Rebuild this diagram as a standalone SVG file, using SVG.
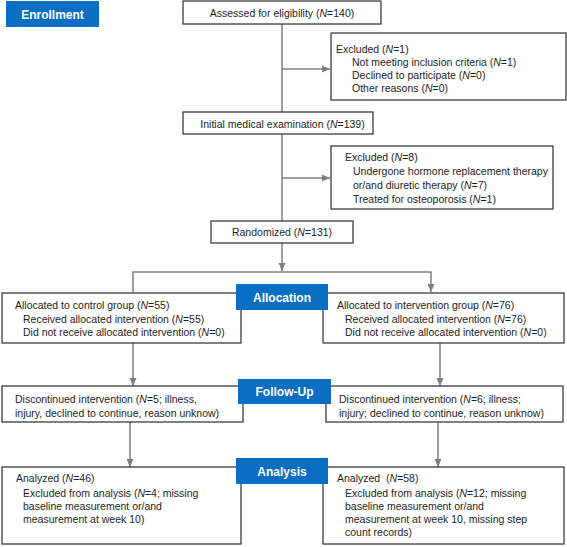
<svg xmlns="http://www.w3.org/2000/svg" width="567" height="547" viewBox="0 0 567 547">
<style>
.box{fill:#fff;stroke:#3c3c3c;stroke-width:1.3}
.stage{fill:#0a6fc2}
.stx{font-family:"Liberation Sans",Arial,sans-serif;font-size:12px;font-weight:bold;fill:#fff;text-anchor:middle}
.t{font-family:"Liberation Sans",Arial,sans-serif;font-size:10.5px;fill:#1e1e1e;white-space:pre}
.c{text-anchor:middle}
.ln{fill:none;stroke:#7f7f7f;stroke-width:1.5}
.arr{fill:none;stroke:#7f7f7f;stroke-width:1.5;marker-end:url(#ah)}
</style>
<defs>
<marker id="ah" markerUnits="userSpaceOnUse" markerWidth="8" markerHeight="8" refX="8" refY="4" orient="auto">
<path d="M0,0.5 L8,4 L0,7.5 Z" fill="#7f7f7f"/>
</marker>
</defs>
<rect width="567" height="547" fill="#fff"/>
<g id="connectors">
<line class="ln" x1="282" y1="24" x2="282" y2="112"/>
<line class="arr" x1="282" y1="69" x2="330" y2="69"/>
<line class="ln" x1="282" y1="134" x2="282" y2="221"/>
<line class="arr" x1="282" y1="178" x2="330" y2="178"/>
<line class="arr" x1="282" y1="243" x2="282" y2="271"/>
<polyline class="arr" points="133,292 133,272 431,272 431,292" marker-end="url(#ah)"/>
<line class="arr" x1="133" y1="343" x2="133" y2="386"/>
<line class="arr" x1="440" y1="343" x2="440" y2="386"/>
<line class="arr" x1="130" y1="422" x2="130" y2="467"/>
<line class="arr" x1="438" y1="422" x2="438" y2="467"/>
</g>
<g id="enrollment"><rect class="stage" x="6" y="1" width="93" height="26"/><text class="stx" x="52.5" y="18.5">Enrollment</text></g>
<g id="assessed"><rect class="box" x="183" y="1" width="198" height="23"/><text class="t c" x="282" y="17">Assessed for eligibility (<tspan font-style="italic">N</tspan>=140)</text></g>
<g id="excluded1"><rect class="box" x="331" y="33" width="235" height="67"/>
<text class="t" x="336" y="53">Excluded (<tspan font-style="italic">N</tspan>=1)</text>
<text class="t" x="352" y="66">Not meeting inclusion criteria (<tspan font-style="italic">N</tspan>=1)</text>
<text class="t" x="352" y="79">Declined to participate (<tspan font-style="italic">N</tspan>=0)</text>
<text class="t" x="352" y="92">Other reasons (<tspan font-style="italic">N</tspan>=0)</text></g>
<g id="initial"><rect class="box" x="183" y="112" width="190" height="22"/><text class="t c" x="282.5" y="127.5">Initial medical examination (<tspan font-style="italic">N</tspan>=139)</text></g>
<g id="excluded2"><rect class="box" x="331" y="146" width="222" height="63"/>
<text class="t" x="345" y="160.5">Excluded (<tspan font-style="italic">N</tspan>=8)</text>
<text class="t" x="353" y="174.5">Undergone hormone replacement therapy</text>
<text class="t" x="353" y="188.5">or/and diuretic therapy (<tspan font-style="italic">N</tspan>=7)</text>
<text class="t" x="353" y="202.5">Treated for osteoporosis (<tspan font-style="italic">N</tspan>=1)</text></g>
<g id="randomized"><rect class="box" x="211" y="221" width="142" height="22"/><text class="t c" x="282" y="236">Randomized (<tspan font-style="italic">N</tspan>=131)</text></g>
<g id="control"><rect class="box" x="2" y="293" width="239" height="50"/>
<text class="t" x="15" y="308.7">Allocated to control group (<tspan font-style="italic">N</tspan>=55)</text>
<text class="t" x="23" y="322.7">Received allocated intervention (<tspan font-style="italic">N</tspan>=55)</text>
<text class="t" x="23" y="336.4">Did not receive allocated intervention (<tspan font-style="italic">N</tspan>=0)</text></g>
<g id="intervention"><rect class="box" x="323" y="293" width="241" height="50"/>
<text class="t" x="337" y="308.7">Allocated to intervention group (<tspan font-style="italic">N</tspan>=76)</text>
<text class="t" x="345" y="322.7">Received allocated intervention (<tspan font-style="italic">N</tspan>=76)</text>
<text class="t" x="345" y="336.4">Did not receive allocated intervention (<tspan font-style="italic">N</tspan>=0)</text></g>
<g id="allocation"><rect class="stage" x="236" y="284" width="92" height="26"/><text class="stx" x="282" y="302">Allocation</text></g>
<g id="discontinued-control"><rect class="box" x="2" y="386" width="241" height="36"/>
<text class="t" x="15" y="403.4">Discontinued intervention (<tspan font-style="italic">N</tspan>=5; illness,</text>
<text class="t" x="15" y="417.4">injury, declined to continue, reason unknow)</text></g>
<g id="discontinued-intervention"><rect class="box" x="326" y="386" width="237" height="36"/>
<text class="t" x="339" y="403.4">Discontinued intervention (<tspan font-style="italic">N</tspan>=6; illness;</text>
<text class="t" x="339" y="417.4">injury; declined to continue, reason unknow)</text></g>
<g id="followup"><rect class="stage" x="238" y="379" width="93" height="25"/><text class="stx" x="284.5" y="396">Follow-Up</text></g>
<g id="analyzed-control"><rect class="box" x="2" y="467" width="239" height="77"/>
<text class="t" x="16" y="482.4">Analyzed (<tspan font-style="italic">N</tspan>=46)</text>
<text class="t" x="23" y="496.7">Excluded from analysis (<tspan font-style="italic">N</tspan>=4; missing</text>
<text class="t" x="23" y="509.9">baseline measurement or/and</text>
<text class="t" x="23" y="523.1">measurement at week 10)</text></g>
<g id="analyzed-intervention"><rect class="box" x="323" y="467" width="241" height="77"/>
<text class="t" x="337" y="482.4">Analyzed  (<tspan font-style="italic">N</tspan>=58)</text>
<text class="t" x="345" y="496.7">Excluded from analysis (<tspan font-style="italic">N</tspan>=12; missing</text>
<text class="t" x="345" y="509.9">baseline measurement or/and</text>
<text class="t" x="345" y="523.1">measurement at week 10, missing step</text>
<text class="t" x="345" y="536.3">count records)</text></g>
<g id="analysis"><rect class="stage" x="236" y="458" width="92" height="26"/><text class="stx" x="282" y="476">Analysis</text></g>
</svg>
